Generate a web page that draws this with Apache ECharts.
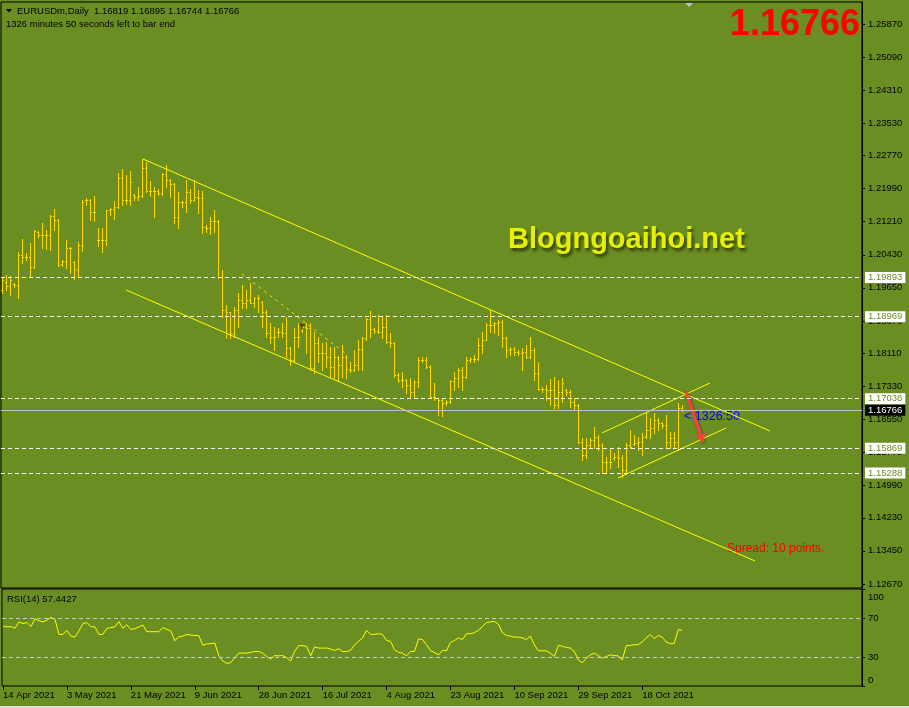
<!DOCTYPE html>
<html>
<head>
<meta charset="utf-8">
<script src="https://cdn.jsdelivr.net/npm/echarts@6/dist/echarts.min.js"></script>
<style>
  html, body { margin: 0; padding: 0; background: #6b8e23; }
  #chart { width: 909px; height: 708px; }
</style>
</head>
<body>
<div id="chart"></div>
<script>
// EURUSDm daily bars, one per trading day (Sun-Fri), 14 Apr 2021 -> end of Oct 2021
const barOpen = [
  1.19600, 1.19788, 1.19694, 1.19741, 1.19717, 1.20424, 1.20377, 1.20377, 1.20142, 1.20967,
  1.20896, 1.20896, 1.20896, 1.21344, 1.21250, 1.20213, 1.20283, 1.20589, 1.20260, 1.20071,
  1.20660, 1.21721, 1.21721, 1.21438, 1.20778, 1.20778, 1.20778, 1.21485, 1.21509, 1.21556,
  1.22240, 1.21721, 1.21721, 1.21839, 1.21792, 1.21816, 1.22475, 1.21933, 1.21933, 1.21933,
  1.21886, 1.22334, 1.22193, 1.22099, 1.21320, 1.21674, 1.21674, 1.21910, 1.21721, 1.21792,
  1.21768, 1.21085, 1.21061, 1.21226, 1.21226, 1.19906, 1.19128, 1.19081, 1.18586, 1.19128,
  1.19364, 1.19293, 1.19364, 1.19293, 1.19411, 1.19317, 1.19081, 1.18586, 1.18492, 1.18610,
  1.18610, 1.18586, 1.18232, 1.17949, 1.18492, 1.18657, 1.18727, 1.18704, 1.17761, 1.18350,
  1.18114, 1.18114, 1.18020, 1.17784, 1.18020, 1.17831, 1.18020, 1.17737, 1.17714, 1.17831,
  1.18209, 1.18468, 1.18916, 1.18680, 1.18633, 1.18610, 1.18727, 1.18374, 1.18350, 1.17596,
  1.17478, 1.17478, 1.17360, 1.17195, 1.17431, 1.17949, 1.17949, 1.17784, 1.17077, 1.17054,
  1.17007, 1.16936, 1.16960, 1.17455, 1.17525, 1.17714, 1.17549, 1.17949, 1.17973, 1.17973,
  1.18303, 1.18421, 1.18774, 1.18774, 1.18821, 1.18845, 1.18468, 1.18185, 1.18209, 1.18138,
  1.18114, 1.18138, 1.18020, 1.18185, 1.17643, 1.17266, 1.17266, 1.17242, 1.17242, 1.16889,
  1.17195, 1.17242, 1.17195, 1.16960, 1.16889, 1.16017, 1.15710, 1.15946, 1.16064, 1.16135,
  1.15946, 1.15545, 1.15545, 1.15639, 1.15663, 1.15639, 1.15357, 1.15946, 1.15970, 1.15993,
  1.16017, 1.16135, 1.16299, 1.16346, 1.16535, 1.16464, 1.16417, 1.16017, 1.16111, 1.16017,
  1.16819
]
const barHigh = [
  1.19882, 1.19953, 1.19930, 1.19764, 1.20495, 1.20802, 1.20471, 1.20707, 1.21014, 1.20990,
  1.21179, 1.21014, 1.21367, 1.21509, 1.21273, 1.20307, 1.20778, 1.20613, 1.20283, 1.20731,
  1.21721, 1.21768, 1.21745, 1.21816, 1.21061, 1.21061, 1.21485, 1.21532, 1.21697, 1.22357,
  1.22452, 1.22310, 1.22404, 1.21863, 1.22028, 1.22688, 1.22617, 1.22169, 1.22028, 1.21981,
  1.22357, 1.22546, 1.22216, 1.22122, 1.21910, 1.21697, 1.22193, 1.21981, 1.22193, 1.21957,
  1.21933, 1.21132, 1.21320, 1.21485, 1.21250, 1.20071, 1.19246, 1.19081, 1.19199, 1.19529,
  1.19717, 1.19600, 1.19764, 1.19435, 1.19482, 1.19340, 1.19128, 1.18821, 1.18727, 1.18704,
  1.18821, 1.18963, 1.18256, 1.18704, 1.18821, 1.18845, 1.18821, 1.18821, 1.18610, 1.18492,
  1.18350, 1.18374, 1.18256, 1.18256, 1.18043, 1.18303, 1.18067, 1.17902, 1.18185, 1.18421,
  1.18492, 1.18939, 1.19104, 1.18704, 1.19010, 1.18963, 1.19010, 1.18586, 1.18374, 1.17643,
  1.17667, 1.17502, 1.17525, 1.17478, 1.18020, 1.18020, 1.18020, 1.17831, 1.17407, 1.17054,
  1.17054, 1.17007, 1.17478, 1.17667, 1.17761, 1.17784, 1.18020, 1.18020, 1.18067, 1.18468,
  1.18610, 1.18821, 1.19128, 1.18845, 1.18892, 1.18892, 1.18492, 1.18256, 1.18256, 1.18185,
  1.18232, 1.18303, 1.18492, 1.18232, 1.17902, 1.17313, 1.17360, 1.17502, 1.17549, 1.17478,
  1.17525, 1.17266, 1.17242, 1.17054, 1.16912, 1.16111, 1.16111, 1.16111, 1.16370, 1.16182,
  1.15993, 1.15663, 1.15875, 1.15757, 1.15899, 1.15710, 1.15993, 1.16299, 1.16182, 1.16135,
  1.16229, 1.16700, 1.16582, 1.16700, 1.16582, 1.16488, 1.16653, 1.16252, 1.16252, 1.16936,
  1.16895
]
const barLow = [
  1.19529, 1.19600, 1.19482, 1.19670, 1.19411, 1.20236, 1.20307, 1.19930, 1.20118, 1.20849,
  1.20589, 1.20566, 1.20542, 1.21014, 1.20165, 1.20165, 1.20118, 1.20000, 1.19859, 1.19906,
  1.20518, 1.21603, 1.21250, 1.21226, 1.20637, 1.20495, 1.20660, 1.21367, 1.21274, 1.21532,
  1.21603, 1.21627, 1.21603, 1.21721, 1.21721, 1.21792, 1.21910, 1.21816, 1.21320, 1.21839,
  1.21839, 1.22028, 1.21792, 1.21179, 1.21061, 1.21556, 1.21438, 1.21650, 1.21697, 1.21414,
  1.20943, 1.20967, 1.20920, 1.20967, 1.19882, 1.18963, 1.18468, 1.18468, 1.18492, 1.18727,
  1.19175, 1.19175, 1.19293, 1.19199, 1.19081, 1.18727, 1.18492, 1.18350, 1.18185, 1.18492,
  1.18492, 1.18020, 1.17831, 1.17925, 1.18256, 1.18610, 1.18114, 1.17714, 1.17643, 1.17902,
  1.17714, 1.17784, 1.17549, 1.17525, 1.17478, 1.17549, 1.17525, 1.17667, 1.17690, 1.17714,
  1.17714, 1.18421, 1.18492, 1.18586, 1.18586, 1.18468, 1.18350, 1.18256, 1.17549, 1.17431,
  1.17313, 1.17171, 1.17054, 1.17077, 1.17313, 1.17902, 1.17761, 1.17054, 1.17007, 1.16653,
  1.16630, 1.16889, 1.16936, 1.17242, 1.17313, 1.17242, 1.17525, 1.17902, 1.17902, 1.17949,
  1.18114, 1.18421, 1.18610, 1.18586, 1.18539, 1.18256, 1.18020, 1.18067, 1.18067, 1.18067,
  1.17714, 1.17996, 1.17996, 1.17478, 1.17242, 1.17195, 1.17007, 1.16889, 1.16818, 1.16818,
  1.16960, 1.17124, 1.16842, 1.16771, 1.15993, 1.15592, 1.15639, 1.15899, 1.15875, 1.15828,
  1.15286, 1.15286, 1.15403, 1.15592, 1.15427, 1.15192, 1.15286, 1.15875, 1.15946, 1.15828,
  1.15710, 1.16111, 1.16111, 1.16229, 1.16299, 1.16346, 1.15899, 1.15875, 1.15875, 1.15828,
  1.16744
]
const barClose = [
  1.19835, 1.19694, 1.19835, 1.19717, 1.20424, 1.20377, 1.20377, 1.20142, 1.20990, 1.20896,
  1.20896, 1.20896, 1.21344, 1.21250, 1.20189, 1.20283, 1.20589, 1.20589, 1.20095, 1.20660,
  1.21674, 1.21721, 1.21438, 1.21438, 1.20778, 1.20778, 1.21485, 1.21509, 1.21556, 1.22240,
  1.21721, 1.21721, 1.22146, 1.21792, 1.21816, 1.22475, 1.21933, 1.21933, 1.21933, 1.21886,
  1.22334, 1.22193, 1.22099, 1.21320, 1.21674, 1.21674, 1.21910, 1.21721, 1.21792, 1.21768,
  1.21085, 1.21061, 1.21226, 1.21226, 1.19906, 1.19128, 1.19081, 1.18586, 1.19128, 1.19364,
  1.19293, 1.19364, 1.19293, 1.19411, 1.19411, 1.19081, 1.18586, 1.18492, 1.18492, 1.18610,
  1.18586, 1.18232, 1.17949, 1.18492, 1.18492, 1.18727, 1.18704, 1.17761, 1.18350, 1.18114,
  1.18114, 1.18020, 1.17784, 1.18020, 1.17831, 1.18020, 1.17737, 1.17714, 1.17831, 1.18209,
  1.18468, 1.18916, 1.18680, 1.18633, 1.18610, 1.18727, 1.18374, 1.18350, 1.17596, 1.17478,
  1.17478, 1.17360, 1.17195, 1.17431, 1.17949, 1.17949, 1.17784, 1.17077, 1.17077, 1.17007,
  1.16936, 1.16960, 1.17455, 1.17525, 1.17714, 1.17549, 1.17949, 1.17973, 1.17973, 1.18303,
  1.18421, 1.18774, 1.18774, 1.18821, 1.18845, 1.18468, 1.18185, 1.18209, 1.18138, 1.18114,
  1.18138, 1.18020, 1.18185, 1.17643, 1.17266, 1.17266, 1.17242, 1.17242, 1.16889, 1.17195,
  1.17407, 1.17195, 1.16960, 1.16889, 1.16017, 1.15710, 1.15946, 1.16064, 1.16135, 1.15946,
  1.15545, 1.15545, 1.15545, 1.15663, 1.15639, 1.15357, 1.15946, 1.15899, 1.15993, 1.16017,
  1.16135, 1.16299, 1.16346, 1.16535, 1.16464, 1.16417, 1.16017, 1.16111, 1.16017, 1.16818,
  1.16766
]
const rsiValues = [
  61.9, 60.9, 61.2, 59.5, 66.1, 64.4, 65.4, 61.2, 69.3, 67.2,
  66.1, 67.9, 70.7, 68.9, 53.2, 53.2, 57.4, 51.4, 50.4, 56.7,
  64.4, 65.4, 61.2, 60.9, 53.2, 53.2, 59.5, 60.2, 60.9, 66.5,
  59.5, 63.0, 58.4, 59.1, 60.9, 63.0, 56.0, 56.0, 56.0, 56.0,
  60.2, 58.4, 56.7, 46.8, 50.7, 51.4, 53.2, 52.5, 52.1, 52.1,
  41.9, 43.3, 43.7, 44.4, 31.4, 25.8, 23.3, 24.0, 29.3, 33.9,
  33.9, 33.9, 34.6, 35.6, 35.6, 33.9, 30.4, 27.9, 31.4, 31.1,
  31.4, 29.3, 25.8, 35.6, 41.6, 41.6, 40.9, 31.1, 40.2, 39.1,
  39.1, 39.1, 38.1, 36.7, 38.4, 35.6, 35.6, 36.7, 42.6, 46.1,
  49.6, 57.4, 53.2, 53.2, 53.9, 53.2, 46.8, 46.1, 37.4, 34.6,
  33.9, 31.1, 35.6, 35.6, 48.6, 47.9, 42.6, 36.3, 34.6, 32.1,
  36.7, 36.3, 45.1, 46.8, 49.6, 47.9, 53.9, 53.9, 54.9, 57.4,
  61.2, 65.4, 66.1, 66.5, 63.7, 54.9, 52.1, 51.4, 50.4, 50.4,
  49.6, 47.9, 51.4, 42.6, 36.3, 36.3, 36.3, 33.9, 30.4, 41.9,
  40.9, 39.8, 39.1, 35.6, 26.8, 24.0, 28.6, 32.1, 33.9, 31.4,
  28.6, 30.4, 32.1, 31.4, 31.1, 26.8, 41.6, 41.9, 42.6, 42.6,
  45.4, 49.6, 53.2, 48.9, 52.1, 50.4, 45.4, 43.7, 43.7, 58.1,
  57.4427
]

const dateTickIndex = [0, 16, 32, 48, 64, 80, 96, 112, 128, 144, 160]
const dateTickText = ['14 Apr 2021', '3 May 2021', '21 May 2021', '9 Jun 2021', '28 Jun 2021',
  '16 Jul 2021', '4 Aug 2021', '23 Aug 2021', '10 Sep 2021', '29 Sep 2021', '18 Oct 2021']
const priceTicks = [1.25870, 1.25090, 1.24310, 1.23530, 1.22770, 1.21990, 1.21210, 1.20430, 1.19650,
  1.18870, 1.18110, 1.17330, 1.16550, 1.15770, 1.14990, 1.14230, 1.13450, 1.12670]
const rsiTicks = [0, 30, 70, 100]
const rsiLevels = [70, 30]

const levelPrices = [1.19893, 1.18969, 1.17038, 1.15869, 1.15288]
const bidPrice = 1.16766

// drawn objects, in [bar index, price]
const channelLines = [
  [[35.25, 1.22688], [192, 1.16276]],
  [[31, 1.19600], [188.25, 1.13211]],
  [[150, 1.16229], [177, 1.17407]],
  [[154, 1.15168], [181, 1.16346]]
]
const dashedLine = [[60, 1.19977], [85.75, 1.18114]]
const arrowLine = [[171, 1.17195], [175.25, 1.16017]]
const crossMark = [75, 1.18751]

const FONT = '"Liberation Sans", Arial, sans-serif'
const BAR_COLOR = '#ffd700'

const chart = echarts.init(document.getElementById('chart'), null, { renderer: 'canvas' })

function renderBar(params, api) {
  const i = api.value(0)
  const x = Math.round(api.coord([i, api.value(1)])[0])
  const yO = Math.round(api.coord([i, api.value(1)])[1]) + 0.5
  const yH = Math.round(api.coord([i, api.value(2)])[1])
  const yL = Math.round(api.coord([i, api.value(3)])[1]) + 1
  const yC = Math.round(api.coord([i, api.value(4)])[1]) + 0.5
  const style = { stroke: BAR_COLOR, lineWidth: 1 }
  return {
    type: 'group',
    children: [
      { type: 'line', shape: { x1: x + 0.5, y1: yH, x2: x + 0.5, y2: yL }, style },
      { type: 'line', shape: { x1: x - 1, y1: yO, x2: x, y2: yO }, style },
      { type: 'line', shape: { x1: x + 1, y1: yC, x2: x + 2, y2: yC }, style }
    ]
  }
}

const levelLabel = {
  show: true,
  position: 'end',
  distance: 3,
  formatter: p => Number(p.value).toFixed(5),
  fontFamily: FONT,
  fontSize: 9.5,
  color: '#6b8e23',
  backgroundColor: '#ffffff',
  padding: [1, 3, 0, 3]
}

const option = {
  backgroundColor: '#6b8e23',
  animation: false,
  grid: [
    { left: 1, top: 2, width: 861, height: 586, show: true, borderColor: '#000', borderWidth: 1 },
    { left: 1, top: 589, width: 861, height: 97, show: true, borderColor: '#000', borderWidth: 1 }
  ],
  xAxis: [
    { gridIndex: 0, type: 'value', min: -0.25, max: 215, show: false, axisLine: { onZero: false } },
    {
      gridIndex: 1, type: 'value', min: -0.25, max: 215,
      axisLine: { show: false, onZero: false },
      splitLine: { show: false },
      axisTick: { show: true, customValues: dateTickIndex, length: 4, lineStyle: { color: '#000' } },
      axisLabel: {
        customValues: dateTickIndex,
        formatter: v => dateTickText[dateTickIndex.indexOf(v)],
        align: 'left',
        margin: 4,
        color: '#000',
        fontFamily: FONT,
        fontSize: 9.5
      }
    }
  ],
  yAxis: [
    {
      gridIndex: 0, type: 'value', position: 'right',
      min: 1.12574, max: 1.26389,
      splitLine: { show: false },
      axisLine: { show: true, onZero: false, lineStyle: { color: '#000' } },
      axisTick: { show: true, customValues: priceTicks, length: 3, lineStyle: { color: '#000' } },
      axisLabel: {
        customValues: priceTicks,
        formatter: v => v.toFixed(5),
        margin: 6,
        color: '#000',
        fontFamily: FONT,
        fontSize: 9.5
      }
    },
    {
      gridIndex: 1, type: 'value', position: 'right',
      min: 0, max: 100,
      splitLine: { show: false },
      axisLine: { show: true, onZero: false, lineStyle: { color: '#000' } },
      axisTick: { show: true, customValues: rsiTicks, length: 3, lineStyle: { color: '#000' } },
      axisLabel: {
        customValues: rsiTicks,
        formatter: v => v === 100 ? '{hi|100}' : (v === 0 ? '{lo|0}' : '{m|' + v + '}'),
        margin: 6,
        rich: {
          hi: { padding: [16, 0, 0, 0], color: '#000', fontFamily: FONT, fontSize: 9.5 },
          lo: { padding: [0, 0, 12, 0], color: '#000', fontFamily: FONT, fontSize: 9.5 },
          m: { color: '#000', fontFamily: FONT, fontSize: 9.5 }
        }
      }
    }
  ],
  series: [
    {
      name: 'EURUSDm',
      type: 'custom',
      xAxisIndex: 0,
      yAxisIndex: 0,
      clip: true,
      renderItem: renderBar,
      encode: { x: 0, y: [1, 2, 3, 4] },
      data: barOpen.map((o, i) => [i, o, barHigh[i], barLow[i], barClose[i]]),
      markLine: {
        silent: true,
        symbol: 'none',
        precision: 5,
        animation: false,
        data: levelPrices.map(v => ({
          yAxis: v,
          lineStyle: { color: '#ffffff', type: [4, 3], width: 1 },
          label: levelLabel
        })).concat([{
          yAxis: bidPrice,
          lineStyle: { color: '#c0c0c0', type: 'solid', width: 1 },
          label: Object.assign({}, levelLabel, { color: '#ffffff', backgroundColor: '#000000' })
        }])
      },
      z: 2
    },
    {
      type: 'lines',
      coordinateSystem: 'cartesian2d',
      xAxisIndex: 0,
      yAxisIndex: 0,
      silent: true,
      lineStyle: { color: '#ffff00', width: 1, opacity: 1 },
      data: channelLines.map(c => ({ coords: c })),
      z: 3
    },
    {
      type: 'lines',
      coordinateSystem: 'cartesian2d',
      xAxisIndex: 0,
      yAxisIndex: 0,
      silent: true,
      lineStyle: { color: '#ffd700', width: 1, opacity: 1, type: [3, 4] },
      data: [{ coords: dashedLine }],
      z: 3
    },
    {
      type: 'lines',
      coordinateSystem: 'cartesian2d',
      xAxisIndex: 0,
      yAxisIndex: 0,
      silent: true,
      symbol: ['none', 'arrow'],
      symbolSize: 9,
      lineStyle: { color: '#ff4040', width: 3, opacity: 1, shadowColor: 'rgba(0,0,0,0.4)', shadowBlur: 3, shadowOffsetX: 1, shadowOffsetY: 1 },
      data: [{ coords: arrowLine }],
      z: 4
    },
    {
      type: 'scatter',
      xAxisIndex: 0,
      yAxisIndex: 0,
      silent: true,
      symbol: 'path://M2,0 H3 V2 H5 V3 H3 V7 H2 V3 H0 V2 H2 Z',
      symbolSize: [5, 7],
      itemStyle: { color: '#000' },
      data: [crossMark],
      z: 4
    },
    {
      name: 'RSI(14)',
      type: 'line',
      xAxisIndex: 1,
      yAxisIndex: 1,
      showSymbol: false,
      silent: true,
      lineStyle: { color: '#ffff00', width: 1 },
      data: rsiValues.map((v, i) => [i, v]),
      markLine: {
        silent: true,
        symbol: 'none',
        label: { show: false },
        lineStyle: { color: '#c8c8c8', type: [4, 3], width: 1 },
        data: rsiLevels.map(v => ({ yAxis: v }))
      }
    }
  ],
  graphic: [
    { type: 'polygon', shape: { points: [[6, 9], [12, 9], [9, 12.5]] }, style: { fill: '#000' } },
    { type: 'text', x: 17, y: 11, style: { text: 'EURUSDm,Daily  1.16819 1.16895 1.16744 1.16766', font: '9.5px ' + FONT, fill: '#000', textVerticalAlign: 'middle', verticalAlign: 'middle' } },
    { type: 'text', x: 6, y: 24, style: { text: '1326 minutes 50 seconds left to bar end', font: '9.5px ' + FONT, fill: '#000', textVerticalAlign: 'middle', verticalAlign: 'middle' } },
    { type: 'text', x: 7, y: 599, style: { text: 'RSI(14) 57.4427', font: '9.5px ' + FONT, fill: '#000', textVerticalAlign: 'middle', verticalAlign: 'middle' } },
    { type: 'polygon', shape: { points: [[685, 3], [693, 3], [689, 7]] }, style: { fill: '#c0c0c0' } },
    { type: 'text', x: 860, y: 25, style: { text: '1.16766', font: 'bold 36px ' + FONT, fill: '#ff0000', textAlign: 'right', align: 'right', textVerticalAlign: 'middle', verticalAlign: 'middle' } },
    {
      type: 'text', x: 508, y: 240,
      style: {
        text: 'Blogngoaihoi.net', font: 'bold 29px ' + FONT, fill: '#e6f000',
        textVerticalAlign: 'middle', verticalAlign: 'middle',
        textShadowColor: 'rgba(40,50,0,0.85)', textShadowBlur: 3, textShadowOffsetX: 2, textShadowOffsetY: 3
      }
    },
    { type: 'text', x: 684, y: 417, style: { text: '< 1326:50', font: '12.5px ' + FONT, fill: '#0000ff', textVerticalAlign: 'middle', verticalAlign: 'middle' } },
    { type: 'text', x: 727, y: 549, style: { text: 'Spread: 10 points.', font: '12px ' + FONT, fill: '#ff0000', textVerticalAlign: 'middle', verticalAlign: 'middle' } },
    { type: 'rect', shape: { x: 0, y: 706, width: 909, height: 2 }, style: { fill: '#e0e0e0' } }
  ]
}

chart.setOption(option)
</script>
</body>
</html>
